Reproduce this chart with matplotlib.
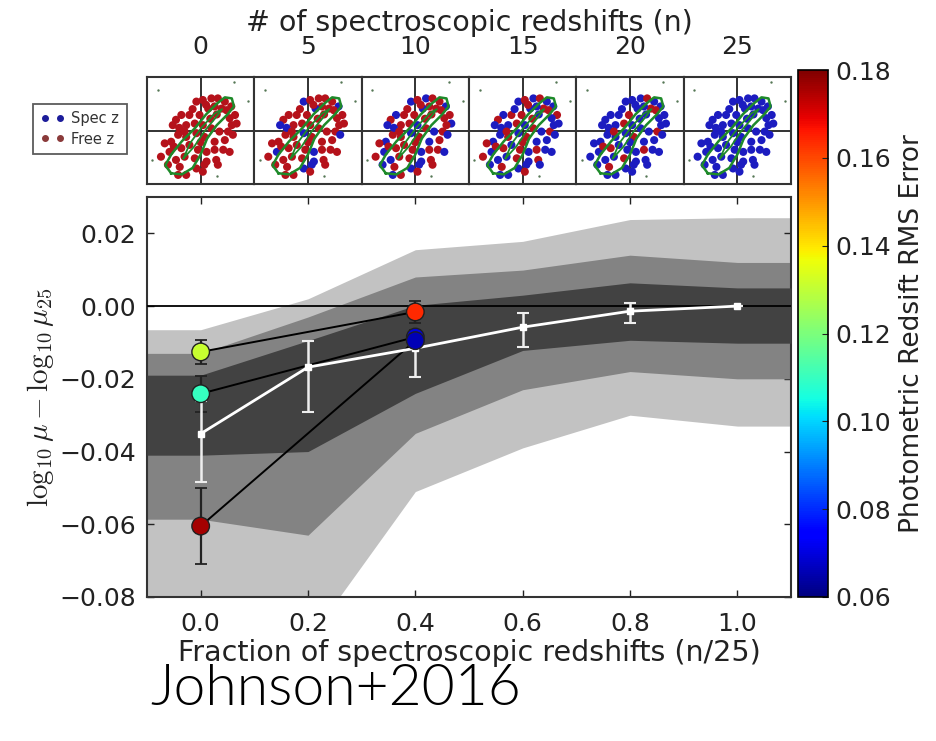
import numpy as np
import matplotlib
matplotlib.use("Agg")
import matplotlib.pyplot as plt
from matplotlib.lines import Line2D
from matplotlib.colors import Normalize

plt.rcParams["mathtext.fontset"] = "cm"

# ---------------- data ----------------
band_x = [-0.1, 0.0, 0.2, 0.4, 0.6, 0.8, 1.0, 1.1]
light_hi = [-0.0065, -0.0065, 0.0020, 0.0155, 0.0178, 0.0238, 0.0243, 0.0243]
mid_hi = [-0.0130, -0.0130, -0.0030, 0.0080, 0.0099, 0.0140, 0.0120, 0.0120]
dark_hi = [-0.0190, -0.0190, -0.0095, 0.0002, 0.0030, 0.0064, 0.0050, 0.0050]
dark_lo = [-0.0410, -0.0410, -0.0400, -0.0240, -0.0122, -0.0094, -0.0102, -0.0102]
mid_lo = [-0.0586, -0.0586, -0.0630, -0.0350, -0.0230, -0.0180, -0.0200, -0.0200]
light_lo = [-0.0920, -0.0920, -0.0920, -0.0510, -0.0390, -0.0300, -0.0330, -0.0330]

med_x = [0.0, 0.2, 0.4, 0.6, 0.8, 1.0]
med_y = [-0.0351, -0.0168, -0.0116, -0.0058, -0.0014, 0.0]
med_err_lo = [0.0134, 0.0124, 0.0080, 0.0055, 0.0032, 0.0]
med_err_hi = [0.0090, 0.0072, 0.0045, 0.0039, 0.0023, 0.0]

clus_x = [0.0, 0.4]
clusA_y = [-0.0126, -0.0016]
clusA_err = [0.0033, 0.0030]
clusA_rms = [0.131, 0.164]
clusB_y = [-0.0241, -0.0085]
clusB_err = [0.0050, 0.0020]
clusB_rms = [0.110, 0.070]
clusC_y = [-0.0605, -0.0095]
clusC_err = [0.0105, 0.0020]
clusC_rms = [0.176, 0.066]

n_values = [0, 5, 10, 15, 20, 25]
n_tick_labels = ["0", "5", "10", "15", "20", "25"]
y_ticks = [0.02, 0.00, -0.02, -0.04, -0.06, -0.08]
x_ticks = [0.0, 0.2, 0.4, 0.6, 0.8, 1.0]
cbar_ticks = [0.06, 0.08, 0.10, 0.12, 0.14, 0.16, 0.18]

# image positions in the thumbnail panels (normalised panel coordinates)
img_x = [-0.08, 0.04, 0.20, 0.32, 0.45, 0.57, 0.64, 0.67, 0.54, 0.39, 0.26, 0.14,
         -0.02, -0.21, -0.36, -0.46, -0.52, -0.27, -0.11, 0.04, 0.20, 0.35, 0.51,
         0.60, 0.45, 0.26, 0.07, -0.08, -0.27, -0.42, -0.55, -0.67, -0.58, -0.36,
         -0.21, -0.05, 0.11, 0.26, 0.42, 0.54, 0.29, 0.11, -0.11, -0.30, -0.46,
         -0.74, -0.61, -0.39, -0.27, -0.08, 0.07, 0.32, 0.04, -0.42,
         0.10, 0.30, 0.48, -0.15, -0.40, 0.18, -0.30, 0.58, -0.50, 0.00]
img_y = [0.54, 0.57, 0.60, 0.60, 0.54, 0.45, 0.29, 0.13, 0.23, 0.41, 0.45, 0.41,
         0.29, 0.29, 0.29, 0.20, 0.10, 0.10, 0.13, 0.10, 0.04, -0.02, -0.02,
         -0.08, -0.18, -0.21, -0.12, -0.05, -0.12, -0.08, -0.21, -0.24, -0.40, -0.33,
         -0.27, -0.36, -0.40, -0.36, -0.36, -0.40, -0.55, -0.58, -0.52, -0.49, -0.55,
         -0.49, -0.64, -0.68, -0.83, -0.71, -0.64, -0.64, -0.77, -0.83,
         0.48, 0.30, 0.38, 0.40, 0.05, 0.22, -0.02, 0.10, -0.30, -0.22]
img_system = [3, 17, 8, 22, 12, 1, 19, 6, 14, 24, 10, 2, 21, 15, 7, 18, 0, 11,
              23, 5, 16, 9, 20, 4, 13, 6, 22, 1, 17, 12, 8, 19, 3, 24, 10, 15,
              0, 21, 14, 7, 18, 2, 23, 11, 5, 16, 9, 20, 13, 4, 1, 12, 17, 8,
              19, 14, 22, 10, 2, 16, 24, 11, 21, 18]
crit_x = [-0.55, -0.35, -0.15, 0.00, 0.12, 0.30, 0.50, 0.62, 0.58, 0.45, 0.30,
          0.10, -0.10, -0.35, -0.55, -0.66, -0.55]
crit_y = [-0.80, -0.82, -0.70, -0.45, -0.15, 0.10, 0.30, 0.45, 0.60, 0.62, 0.50,
          0.30, 0.05, -0.20, -0.45, -0.65, -0.80]
caus_x = [-0.32, -0.12, 0.08, 0.28, 0.40, 0.26, 0.02, -0.20, -0.32]
caus_y = [-0.52, -0.30, 0.00, 0.24, 0.40, 0.32, 0.06, -0.24, -0.52]
dot_x = [0.62, 0.88, -0.90, 0.30, -0.80]
dot_y = [0.90, 0.55, -0.55, -0.85, 0.75]

# ---------------- figure ----------------
W, H = 937, 741
fig = plt.figure(figsize=(W / 100, H / 100), dpi=100)
fig.patch.set_facecolor("white")

def fx(px):
    return px / W

def fy(py):
    return 1 - py / H

TXT = "#222222"
ax_l, ax_r, ax_t, ax_b = 147, 791, 197, 597
ax = fig.add_axes([fx(ax_l), fy(ax_b), fx(ax_r - ax_l), (ax_b - ax_t) / H])

ax.fill_between(band_x, light_lo, light_hi, color="#c2c2c2", lw=0, zorder=1)
ax.fill_between(band_x, mid_lo, mid_hi, color="#838383", lw=0, zorder=2)
ax.fill_between(band_x, dark_lo, dark_hi, color="#424242", lw=0, zorder=3)
ax.axhline(0.0, color="black", lw=1.3, zorder=4)

cmap = plt.get_cmap("jet")
norm = Normalize(vmin=0.06, vmax=0.18)

for ys, es in [(clusA_y, clusA_err), (clusB_y, clusB_err), (clusC_y, clusC_err)]:
    ax.errorbar(clus_x, ys, yerr=es, fmt="none", ecolor="#222222", elinewidth=1.6,
                capsize=4, capthick=1.3, zorder=5)
    ax.plot(clus_x, ys, color="black", lw=1.4, zorder=5)

ax.errorbar(med_x, med_y, yerr=[med_err_lo, med_err_hi], fmt="none",
            ecolor="#eeeeee", elinewidth=1.8, capsize=4.5, capthick=1.5, zorder=6)
ax.plot(med_x, med_y, color="white", lw=2.0, marker="s", ms=4,
        mfc="white", mec="white", zorder=7)

for ys, rs in [(clusA_y, clusA_rms), (clusB_y, clusB_rms), (clusC_y, clusC_rms)]:
    ax.scatter(clus_x, ys, c=rs, cmap=cmap, norm=norm, s=160,
               edgecolors="#202020", linewidths=1.0, zorder=8)

ax.set_xlim(-0.1, 1.1)
ax.set_ylim(-0.08, 0.03)
ax.set_xticks(x_ticks)
ax.set_xticklabels([f"{v:.1f}" for v in x_ticks])
ax.set_yticks(y_ticks)
ax.set_yticklabels([f"{v:.2f}".replace("-", "\u2212") for v in y_ticks])
ax.tick_params(direction="in", top=True, right=True, length=5, width=1,
               labelsize=18, colors=TXT)
ax.tick_params(axis="x", pad=11)
ax.tick_params(axis="y", pad=8)
for sp in ax.spines.values():
    sp.set_linewidth(1.5)
    sp.set_color("#333333")
ax.set_xlabel("Fraction of spectroscopic redshifts (n/25)", fontsize=20.5,
              color=TXT, labelpad=2)
ax.set_ylabel(r"$\log_{10}\mu - \log_{10}\mu_{25}$", fontsize=21,
              color=TXT, labelpad=2)

# ---------------- thumbnail panels ----------------
strip_t, strip_b = 77, 184
panel_w = (ax_r - ax_l) / 6.0
for i, n in enumerate(n_values):
    left = ax_l + i * panel_w
    pax = fig.add_axes([fx(left), fy(strip_b), fx(panel_w), (strip_b - strip_t) / H])
    pax.set_xlim(-1, 1)
    pax.set_ylim(-1, 1)
    pax.set_xticks([])
    pax.set_yticks([])
    for sp in pax.spines.values():
        sp.set_linewidth(1.5)
        sp.set_color("#333333")
    pax.axhline(0, color="#222222", lw=1.3, zorder=1)
    pax.axvline(0, color="#222222", lw=1.3, zorder=1)
    cols = ["#1c1cc0" if s < n else "#b5121b" for s in img_system]
    pax.scatter(img_x, img_y, c=cols, s=34, lw=0, zorder=2)
    pax.plot(crit_x, crit_y, color="#1e8a2a", lw=1.8, zorder=3)
    pax.plot(caus_x, caus_y, color="#1e8a2a", lw=1.3, zorder=3)
    pax.scatter(dot_x, dot_y, c="#557755", s=3, lw=0, zorder=2)

# top axis with n labels
tax = fig.add_axes([fx(ax_l), fy(strip_b), fx(ax_r - ax_l), (strip_b - strip_t) / H],
                   frameon=False)
tax.patch.set_alpha(0)
tax.set_xlim(-2.5, 27.5)
tax.set_ylim(0, 1)
tax.set_yticks([])
tax.xaxis.set_ticks_position("top")
tax.xaxis.set_label_position("top")
tax.set_xticks(n_values)
tax.set_xticklabels(n_tick_labels)
tax.tick_params(axis="x", length=0, pad=13, labelsize=18, colors=TXT)
tax.set_xlabel("# of spectroscopic redshifts (n)", fontsize=20.5, color=TXT,
               labelpad=3)

# legend
handles = [Line2D([], [], ls="none", marker="o", ms=4, mfc="#1c1c9a", mec="#1c1c9a"),
           Line2D([], [], ls="none", marker="o", ms=4, mfc="#8a3a3a", mec="#8a3a3a")]
leg = fig.legend(handles, ["Spec z", "Free z"], loc="center",
                 bbox_to_anchor=(fx(80), fy(129)), numpoints=2, fontsize=10.5,
                 frameon=True, fancybox=False, edgecolor="#333333",
                 handlelength=1.6, handletextpad=0.5, borderpad=0.5,
                 labelspacing=0.35)
leg.get_frame().set_linewidth(1.3)
for t in leg.get_texts():
    t.set_color("#333333")

# colorbar
cax = fig.add_axes([fx(798), fy(597), fx(30), (597 - 70) / H])
sm = plt.cm.ScalarMappable(cmap=cmap, norm=norm)
cb = fig.colorbar(sm, cax=cax, ticks=cbar_ticks)
cb.ax.set_yticklabels([f"{v:.2f}" for v in cbar_ticks])
cb.ax.tick_params(labelsize=18, direction="in", length=4, colors=TXT, pad=5)
cb.outline.set_linewidth(1.2)
cb.set_label("Photometric Redsift RMS Error", fontsize=19, color=TXT,
             labelpad=6)

fig.text(fx(150), fy(705), "Johnson+2016", fontsize=41, family="Lato",
         fontweight=300, color="black", ha="left", va="baseline")

fig.savefig("out.png", dpi=100, facecolor="white")
